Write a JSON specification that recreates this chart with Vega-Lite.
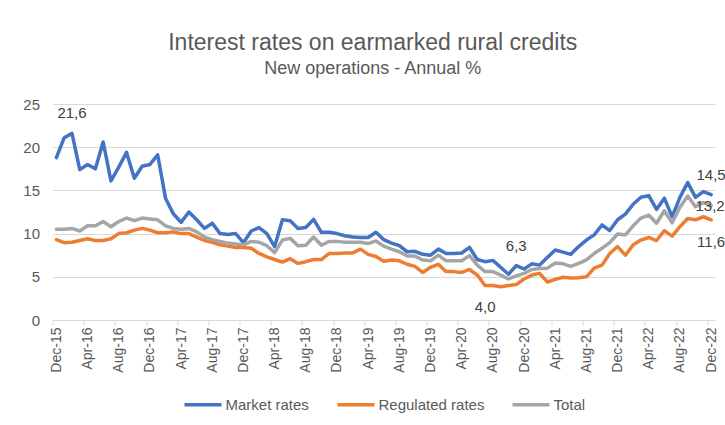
{
  "$schema": "https://vega.github.io/schema/vega-lite/v6.json",
  "autosize": {"type": "none"},
  "width": 662.5,
  "height": 216,
  "padding": {"left": 52.5, "top": 104, "right": 10, "bottom": 105},
  "background": "white",
  "title": {
    "text": "Interest rates on earmarked rural credits",
    "subtitle": "New operations - Annual %",
    "anchor": "middle",
    "font": "Liberation Sans",
    "subtitleFont": "Liberation Sans",
    "fontSize": 23,
    "subtitleFontSize": 18,
    "fontWeight": "normal",
    "color": "#595959",
    "subtitleColor": "#595959",
    "subtitlePadding": 5,
    "offset": 19,
    "dx": -11
  },
  "datasets": {
    "rates": [
      {"m": "Dec-15", "Market rates": 18.8, "Regulated rates": 9.3, "Total": 10.5},
      {"m": "Jan-16", "Market rates": 21.1, "Regulated rates": 8.95, "Total": 10.5},
      {"m": "Feb-16", "Market rates": 21.6, "Regulated rates": 9.0, "Total": 10.6},
      {"m": "Mar-16", "Market rates": 17.4, "Regulated rates": 9.2, "Total": 10.3},
      {"m": "Apr-16", "Market rates": 18.0, "Regulated rates": 9.4, "Total": 10.9},
      {"m": "May-16", "Market rates": 17.5, "Regulated rates": 9.2, "Total": 10.9},
      {"m": "Jun-16", "Market rates": 20.6, "Regulated rates": 9.2, "Total": 11.4},
      {"m": "Jul-16", "Market rates": 16.1, "Regulated rates": 9.4, "Total": 10.8},
      {"m": "Aug-16", "Market rates": 17.7, "Regulated rates": 10.0, "Total": 11.4},
      {"m": "Sep-16", "Market rates": 19.4, "Regulated rates": 10.1, "Total": 11.8},
      {"m": "Oct-16", "Market rates": 16.4, "Regulated rates": 10.4, "Total": 11.5},
      {"m": "Nov-16", "Market rates": 17.8, "Regulated rates": 10.6, "Total": 11.8},
      {"m": "Dec-16", "Market rates": 18.0, "Regulated rates": 10.4, "Total": 11.7},
      {"m": "Jan-17", "Market rates": 19.1, "Regulated rates": 10.1, "Total": 11.6},
      {"m": "Feb-17", "Market rates": 14.1, "Regulated rates": 10.1, "Total": 10.9},
      {"m": "Mar-17", "Market rates": 12.3, "Regulated rates": 10.2, "Total": 10.6},
      {"m": "Apr-17", "Market rates": 11.3, "Regulated rates": 10.0, "Total": 10.5},
      {"m": "May-17", "Market rates": 12.5, "Regulated rates": 10.0, "Total": 10.6},
      {"m": "Jun-17", "Market rates": 11.6, "Regulated rates": 9.6, "Total": 10.2},
      {"m": "Jul-17", "Market rates": 10.6, "Regulated rates": 9.2, "Total": 9.6},
      {"m": "Aug-17", "Market rates": 11.2, "Regulated rates": 9.0, "Total": 9.3},
      {"m": "Sep-17", "Market rates": 10.0, "Regulated rates": 8.7, "Total": 9.1},
      {"m": "Oct-17", "Market rates": 9.9, "Regulated rates": 8.55, "Total": 8.9},
      {"m": "Nov-17", "Market rates": 10.0, "Regulated rates": 8.4, "Total": 8.8},
      {"m": "Dec-17", "Market rates": 8.95, "Regulated rates": 8.4, "Total": 8.7},
      {"m": "Jan-18", "Market rates": 10.3, "Regulated rates": 8.3, "Total": 9.1},
      {"m": "Feb-18", "Market rates": 10.7, "Regulated rates": 7.7, "Total": 9.0},
      {"m": "Mar-18", "Market rates": 10.0, "Regulated rates": 7.3, "Total": 8.6},
      {"m": "Apr-18", "Market rates": 8.5, "Regulated rates": 7.0, "Total": 7.8},
      {"m": "May-18", "Market rates": 11.6, "Regulated rates": 6.7, "Total": 9.25},
      {"m": "Jun-18", "Market rates": 11.5, "Regulated rates": 7.1, "Total": 9.45},
      {"m": "Jul-18", "Market rates": 10.6, "Regulated rates": 6.55, "Total": 8.6},
      {"m": "Aug-18", "Market rates": 10.7, "Regulated rates": 6.75, "Total": 8.65},
      {"m": "Sep-18", "Market rates": 11.65, "Regulated rates": 7.0, "Total": 9.6},
      {"m": "Oct-18", "Market rates": 10.15, "Regulated rates": 7.0, "Total": 8.65},
      {"m": "Nov-18", "Market rates": 10.15, "Regulated rates": 7.7, "Total": 9.1},
      {"m": "Dec-18", "Market rates": 10.0, "Regulated rates": 7.7, "Total": 9.1},
      {"m": "Jan-19", "Market rates": 9.75, "Regulated rates": 7.75, "Total": 9.0},
      {"m": "Feb-19", "Market rates": 9.6, "Regulated rates": 7.75, "Total": 9.0},
      {"m": "Mar-19", "Market rates": 9.55, "Regulated rates": 8.2, "Total": 9.0},
      {"m": "Apr-19", "Market rates": 9.55, "Regulated rates": 7.6, "Total": 8.85},
      {"m": "May-19", "Market rates": 10.15, "Regulated rates": 7.35, "Total": 9.15},
      {"m": "Jun-19", "Market rates": 9.3, "Regulated rates": 6.8, "Total": 8.55},
      {"m": "Jul-19", "Market rates": 8.9, "Regulated rates": 6.95, "Total": 8.2},
      {"m": "Aug-19", "Market rates": 8.6, "Regulated rates": 6.85, "Total": 7.9},
      {"m": "Sep-19", "Market rates": 7.9, "Regulated rates": 6.45, "Total": 7.4},
      {"m": "Oct-19", "Market rates": 7.95, "Regulated rates": 6.2, "Total": 7.4},
      {"m": "Nov-19", "Market rates": 7.6, "Regulated rates": 5.5, "Total": 6.95},
      {"m": "Dec-19", "Market rates": 7.5, "Regulated rates": 6.1, "Total": 6.85},
      {"m": "Jan-20", "Market rates": 8.2, "Regulated rates": 6.45, "Total": 7.5},
      {"m": "Feb-20", "Market rates": 7.7, "Regulated rates": 5.6, "Total": 6.85},
      {"m": "Mar-20", "Market rates": 7.7, "Regulated rates": 5.6, "Total": 6.85},
      {"m": "Apr-20", "Market rates": 7.75, "Regulated rates": 5.5, "Total": 6.85},
      {"m": "May-20", "Market rates": 8.4, "Regulated rates": 5.85, "Total": 7.45},
      {"m": "Jun-20", "Market rates": 7.0, "Regulated rates": 5.2, "Total": 6.35},
      {"m": "Jul-20", "Market rates": 6.75, "Regulated rates": 4.0, "Total": 5.6},
      {"m": "Aug-20", "Market rates": 6.9, "Regulated rates": 4.0, "Total": 5.6},
      {"m": "Sep-20", "Market rates": 6.1, "Regulated rates": 3.85, "Total": 5.2},
      {"m": "Oct-20", "Market rates": 5.3, "Regulated rates": 4.0, "Total": 4.75},
      {"m": "Nov-20", "Market rates": 6.3, "Regulated rates": 4.1, "Total": 5.1},
      {"m": "Dec-20", "Market rates": 5.9, "Regulated rates": 4.75, "Total": 5.4},
      {"m": "Jan-21", "Market rates": 6.5, "Regulated rates": 5.2, "Total": 5.85},
      {"m": "Feb-21", "Market rates": 6.35, "Regulated rates": 5.4, "Total": 5.95},
      {"m": "Mar-21", "Market rates": 7.25, "Regulated rates": 4.4, "Total": 6.0},
      {"m": "Apr-21", "Market rates": 8.1, "Regulated rates": 4.7, "Total": 6.6},
      {"m": "May-21", "Market rates": 7.85, "Regulated rates": 4.95, "Total": 6.5},
      {"m": "Jun-21", "Market rates": 7.6, "Regulated rates": 4.85, "Total": 6.2},
      {"m": "Jul-21", "Market rates": 8.5, "Regulated rates": 4.9, "Total": 6.55},
      {"m": "Aug-21", "Market rates": 9.25, "Regulated rates": 5.0, "Total": 6.95},
      {"m": "Sep-21", "Market rates": 9.85, "Regulated rates": 6.0, "Total": 7.7},
      {"m": "Oct-21", "Market rates": 11.0, "Regulated rates": 6.35, "Total": 8.3},
      {"m": "Nov-21", "Market rates": 10.35, "Regulated rates": 7.7, "Total": 8.95},
      {"m": "Dec-21", "Market rates": 11.6, "Regulated rates": 8.5, "Total": 9.95},
      {"m": "Jan-22", "Market rates": 12.25, "Regulated rates": 7.5, "Total": 9.85},
      {"m": "Feb-22", "Market rates": 13.4, "Regulated rates": 8.7, "Total": 10.9},
      {"m": "Mar-22", "Market rates": 14.2, "Regulated rates": 9.25, "Total": 11.8},
      {"m": "Apr-22", "Market rates": 14.4, "Regulated rates": 9.55, "Total": 12.15},
      {"m": "May-22", "Market rates": 12.8, "Regulated rates": 9.2, "Total": 11.2},
      {"m": "Jun-22", "Market rates": 14.1, "Regulated rates": 10.35, "Total": 12.65},
      {"m": "Jul-22", "Market rates": 11.95, "Regulated rates": 9.7, "Total": 11.25},
      {"m": "Aug-22", "Market rates": 14.2, "Regulated rates": 10.8, "Total": 13.05},
      {"m": "Sep-22", "Market rates": 15.9, "Regulated rates": 11.75, "Total": 14.35},
      {"m": "Oct-22", "Market rates": 14.2, "Regulated rates": 11.6, "Total": 13.1},
      {"m": "Nov-22", "Market rates": 14.85, "Regulated rates": 11.95, "Total": 13.6},
      {"m": "Dec-22", "Market rates": 14.5, "Regulated rates": 11.6, "Total": 13.2}
    ]
  },
  "data": {"name": "rates"},
  "transform": [
    {"fold": ["Market rates", "Regulated rates", "Total"], "as": ["series", "rate"]}
  ],
  "encoding": {
    "x": {
      "field": "m",
      "type": "ordinal",
      "sort": null,
      "scale": {"type": "point", "padding": 0.5},
      "axis": {
        "title": null,
        "values": ["Dec-15", "Apr-16", "Aug-16", "Dec-16", "Apr-17", "Aug-17", "Dec-17", "Apr-18", "Aug-18", "Dec-18", "Apr-19", "Aug-19", "Dec-19", "Apr-20", "Aug-20", "Dec-20", "Apr-21", "Aug-21", "Dec-21", "Apr-22", "Aug-22", "Dec-22"],
        "labelAngle": -90,
        "labelFont": "Liberation Sans",
        "labelFontSize": 14,
        "labelColor": "#595959",
        "labelPadding": 2,
        "tickOffset": -3.9,
        "labelOffset": 3.9,
        "tickSize": 5,
        "tickColor": "#d9d9d9",
        "domainColor": "#d9d9d9",
        "grid": false,
        "labelOverlap": false
      }
    },
    "y": {
      "field": "rate",
      "type": "quantitative",
      "scale": {"domain": [0, 25], "nice": false},
      "axis": {
        "title": null,
        "values": [0, 5, 10, 15, 20, 25],
        "domain": false,
        "ticks": false,
        "labelPadding": 13,
        "labelFont": "Liberation Sans",
        "labelFontSize": 15,
        "labelColor": "#595959",
        "gridColor": "#d9d9d9",
        "gridWidth": 1
      }
    }
  },
  "layer": [
    {
      "mark": {"type": "line", "strokeWidth": 3.5, "strokeJoin": "round", "strokeCap": "round"},
      "encoding": {
        "color": {
          "field": "series",
          "type": "nominal",
          "scale": {"domain": ["Market rates", "Regulated rates", "Total"], "range": ["#4472C4", "#ED7D31", "#A5A5A5"]},
          "legend": {
            "orient": "none",
            "legendX": 130,
            "legendY": 280,
            "direction": "horizontal",
            "title": null,
            "symbolType": "stroke",
            "symbolSize": 1369,
            "symbolStrokeWidth": 3.5,
            "labelFont": "Liberation Sans",
            "labelFontSize": 15,
            "labelColor": "#595959",
            "labelOffset": 2,
            "columnPadding": 21
          }
        }
      }
    },
    {
      "transform": [{"filter": "datum.series == 'Market rates' && (datum.m == 'Feb-16' || datum.m == 'Nov-20' || datum.m == 'Dec-22')"}],
      "mark": {"type": "text", "dy": -20, "font": "Liberation Sans", "fontSize": 15, "color": "#404040"},
      "encoding": {"text": {"field": "rate", "type": "quantitative", "format": ".1f"}}
    },
    {
      "transform": [{"filter": "datum.series == 'Regulated rates' && (datum.m == 'Jul-20' || datum.m == 'Dec-22')"}],
      "mark": {"type": "text", "dy": 22, "font": "Liberation Sans", "fontSize": 15, "color": "#404040"},
      "encoding": {"text": {"field": "rate", "type": "quantitative", "format": ".1f"}}
    },
    {
      "transform": [{"filter": "datum.series == 'Total' && datum.m == 'Dec-22'"}],
      "mark": {"type": "text", "dx": -1, "font": "Liberation Sans", "fontSize": 15, "color": "#404040"},
      "encoding": {"text": {"field": "rate", "type": "quantitative", "format": ".1f"}}
    }
  ],
  "config": {
    "view": {"stroke": null},
    "locale": {"number": {"decimal": ",", "thousands": ".", "grouping": [3], "currency": ["", ""]}}
  }
}
